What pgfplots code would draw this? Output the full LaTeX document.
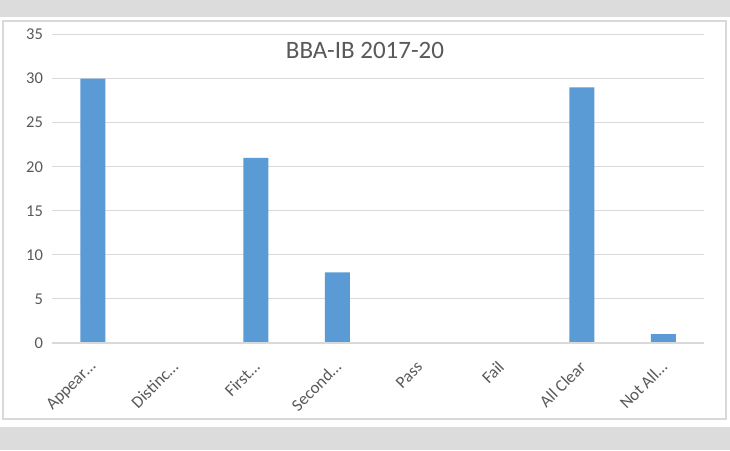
\documentclass[border=0pt]{standalone}
\usepackage{pgfplots}
\pgfplotsset{compat=1.18}
\usepackage{fontspec}
\setmainfont{Carlito}

\definecolor{barblue}{HTML}{5B9BD5}
\definecolor{txtgray}{HTML}{595959}
\definecolor{gridgray}{HTML}{D9D9D9}
\definecolor{bggray}{HTML}{DCDCDC}

\begin{document}
\begin{tikzpicture}
\useasboundingbox (0,0) rectangle (730pt,450pt);
% page background
\fill[bggray] (0,0) rectangle (730pt,450pt);
\fill[white] (0,23pt) rectangle (730pt,433pt);
\draw[gridgray, line width=1.2pt] (3pt,31pt) rectangle (726pt,429pt);

\begin{axis}[
  at={(52pt,107pt)},
  anchor=south west,
  scale only axis,
  width=652pt,
  height=308.5pt,
  ybar,
  bar width=25pt,
  xmin=-0.5, xmax=7.5,
  ymin=0, ymax=35,
  ytick={0,5,...,35},
  xtick={0,...,7},
  xticklabels={Appear…, Distinc…, First…, Second…, Pass, Fail, All Clear, Not All…},
  axis x line*=bottom,
  axis y line*=left,
  axis line style={draw=none},
  ymajorgrids,
  grid style={gridgray, line width=1pt},
  major tick length=0pt,
  tick style={draw=none},
  ticklabel style={font=\fontsize{16.5}{18}\selectfont, text=txtgray},
  yticklabel style={xshift=-5.5pt},
  xticklabel style={xshift=1pt, yshift=-21pt, rotate=45, anchor=east, inner sep=0pt, font=\fontsize{17}{19}\selectfont},
  /pgf/number format/assume math mode=true,
  clip=false,
]
\addplot[fill=barblue, draw=none] coordinates {
  (0,30) (1,0) (2,21) (3,8) (4,0) (5,0) (6,29) (7,1)
};
\draw[gridgray, line width=1.5pt] (axis cs:-0.5,0) -- (axis cs:7.5,0);
\end{axis}
\node[anchor=base, text=txtgray, font=\fontsize{25}{28}\selectfont, inner sep=0pt] at (365pt,391pt) {BBA-IB 2017-20};
\end{tikzpicture}
\end{document}
